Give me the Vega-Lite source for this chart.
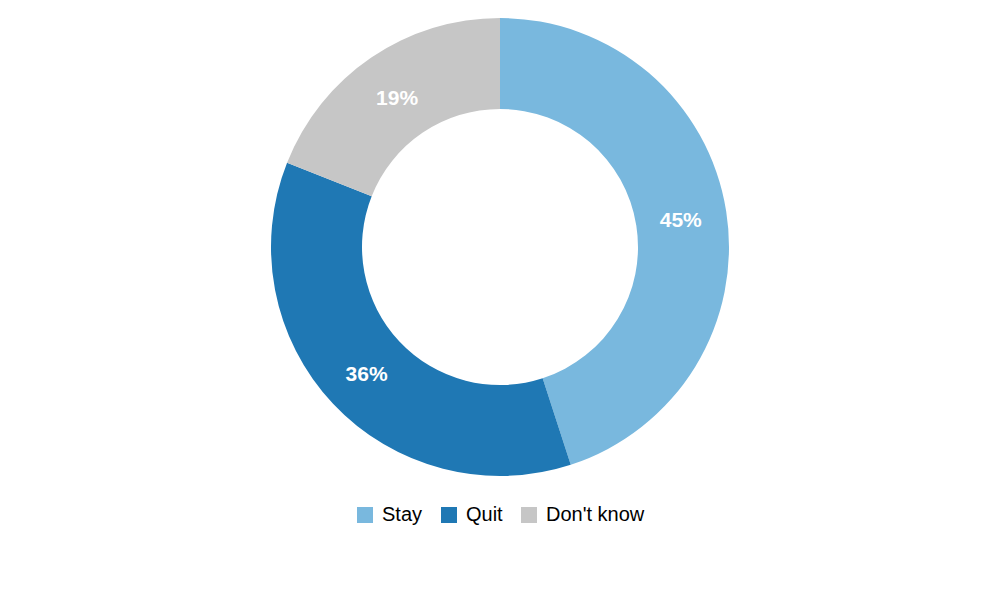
{
  "$schema": "https://vega.github.io/schema/vega-lite/v6.json",
  "width": 1000,
  "height": 494,
  "padding": 0,
  "autosize": {"type": "pad"},
  "background": "white",
  "config": {"view": {"stroke": null}, "font": "Liberation Sans", "legend": {"layout": {"bottom": {"anchor": "middle"}}}},
  "data": {"values": [
    {"answer": "Stay", "share": 0.45},
    {"answer": "Quit", "share": 0.36},
    {"answer": "Don't know", "share": 0.19}
  ]},
  "encoding": {
    "theta": {"field": "share", "type": "quantitative", "stack": true},
    "order": {"field": "order", "type": "quantitative"},
    "color": {
      "field": "answer", "type": "nominal",
      "scale": {"domain": ["Stay", "Quit", "Don't know"], "range": ["#79b8de", "#1f78b4", "#c6c6c6"]},
      "sort": ["Stay", "Quit", "Don't know"],
      "legend": {
        "title": null, "orient": "bottom", "direction": "horizontal",
        "symbolType": "square", "symbolSize": 256, "symbolStrokeWidth": 0,
        "labelFontSize": 20, "labelFont": "Liberation Sans", "labelColor": "#000000",
        "columnPadding": 16, "labelOffset": 7, "offset": 11
      }
    }
  },
  "transform": [{"calculate": "indexof(['Stay','Quit',\"Don't know\"], datum.answer)", "as": "order"}],
  "layer": [
    {"mark": {"type": "arc", "outerRadius": 229, "innerRadius": 138}},
    {"mark": {"type": "text", "radius": 183, "fontSize": 21, "fontWeight": "bold", "fill": "white", "font": "Liberation Sans", "dy": 3},
     "encoding": {"text": {"field": "share", "type": "quantitative", "format": ".0%"}, "color": {"value": "white"}}}
  ]
}
